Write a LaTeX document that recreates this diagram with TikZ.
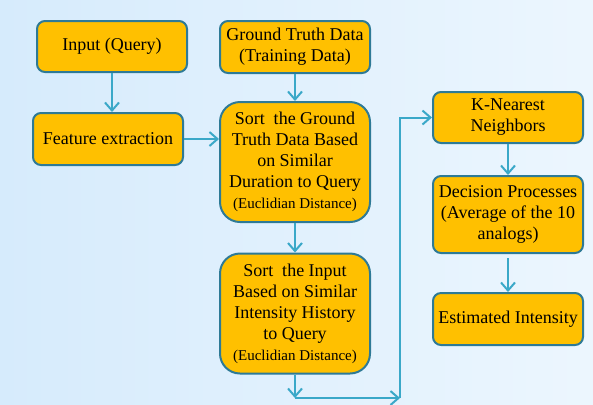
\documentclass[tikz,border=0pt]{standalone}
\usepackage{fontspec}
\setmainfont{Liberation Serif}
\newfontfamily\boxfont{Liberation Serif}
\usetikzlibrary{arrows.meta}
\definecolor{boxfill}{RGB}{255,192,0}
\definecolor{boxline}{RGB}{46,122,150}
\definecolor{arrowc}{RGB}{58,168,200}
\definecolor{bgleft}{RGB}{214,235,252}
\definecolor{bgright}{RGB}{236,246,254}
\newcommand{\smalltxt}[1]{{\fontsize{7.5}{9}\selectfont #1}}
\begin{document}
\begin{tikzpicture}[x=0.5pt,y=-0.5pt,
  box/.style={draw=boxline,line width=1pt,fill=boxfill,rounded corners=4pt,minimum width=75pt,align=center,font=\boxfont\fontsize{9}{10.5}\selectfont,inner sep=2pt},
  bigbox/.style={box,rounded corners=10pt,minimum height=60pt},
  arr/.style={-{Straight Barb[length=4pt,width=7pt]},draw=arrowc,line width=1pt}]
\shade[left color=bgleft,right color=bgright] (0,0) rectangle (593,404);
\useasboundingbox (0,0) rectangle (593,404);
% left column
\node[box,minimum height=25.5pt] (inp) at (112,46.5) {Input (Query)};
\node[box,minimum height=26pt] (feat) at (108,139) {Feature extraction};
% middle column
\node[box,minimum height=26pt] (gt) at (295,47) {Ground Truth Data\\(Training Data)};
\node[bigbox] (sgt) at (295,162) {Sort~ the Ground\\Truth Data Based\\on Similar\\Duration to Query\\\smalltxt{(Euclidian Distance)}};
\node[bigbox] (sin) at (295,313.5) {Sort~ the Input\\Based on Similar\\Intensity History\\to Query\\\smalltxt{(Euclidian Distance)}};
% right column
\node[box,minimum height=25.5pt] (knn) at (508,117.5) {K-Nearest\\Neighbors};
\node[box,minimum height=38.5pt] (dec) at (508,214.5) {Decision Processes\\(Average of the 10\\analogs)};
\node[box,minimum height=26pt] (est) at (508,319) {Estimated Intensity};
\coordinate (c1) at (295,398);
\coordinate (c2) at (400,398);
\draw[arr] (inp.south) -- (inp.south |- feat.north);
\draw[arr] (feat.east) -- (feat.east -| sgt.west);
\draw[arr] (gt) -- (sgt);
\draw[arr] (sgt) -- (sin);
\draw[arr] (sin) -- (c1);
\draw[arr] (c1) -- (c2);
\draw[arr] (c2) |- (knn.west);
\draw[arr] (knn) -- (dec);
\draw[arr,shorten <=2pt] (dec) -- (est);
\end{tikzpicture}
\end{document}
